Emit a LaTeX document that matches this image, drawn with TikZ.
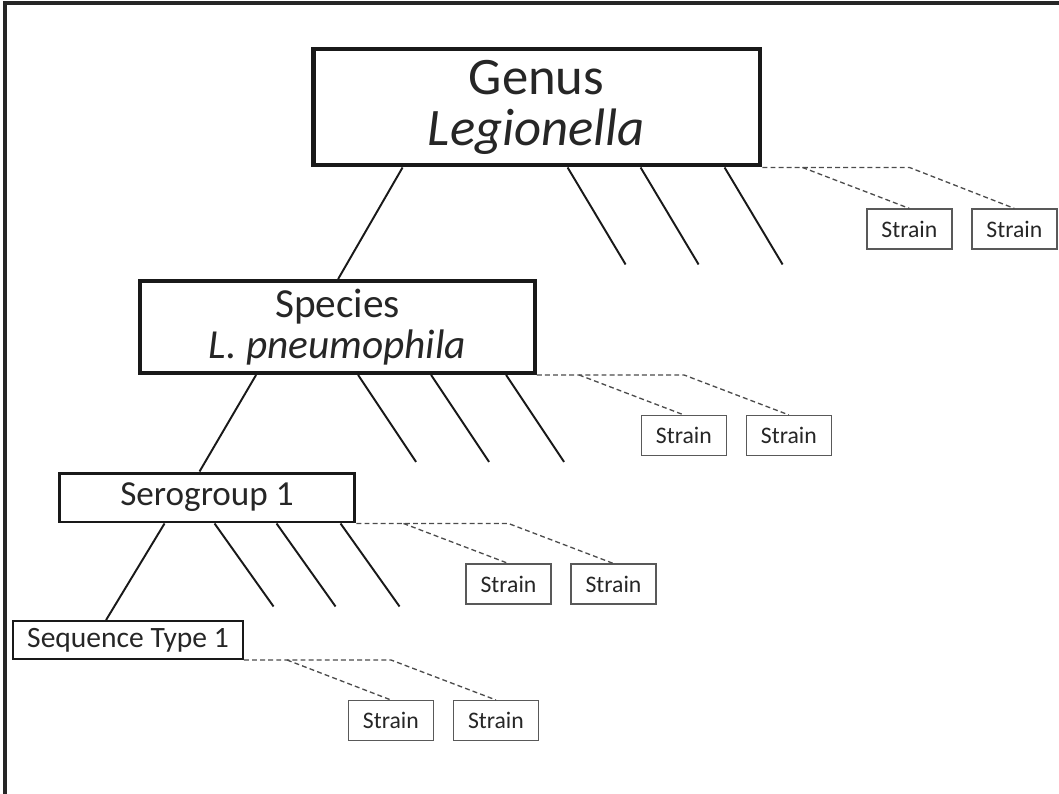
\documentclass[tikz,border=0pt]{standalone}
\usepackage{fontspec}
\setmainfont{Carlito}
\usetikzlibrary{calc}

\tikzset{
  level/.style={draw=black!90, fill=white, inner sep=0pt, align=center, text=black!85},
  strainbox/.style={draw=black!65, line width=0.8pt, inner sep=0pt,
    minimum width=1.7cm, minimum height=0.8cm, anchor=north,
    font=\fontsize{13.5}{14}\selectfont, text=black!85},
  branch/.style={line width=1.1pt, black!90},
  dashline/.style={line width=0.75pt, black!70, dash pattern=on 2.8pt off 1.8pt}
}

\begin{document}
\begin{tikzpicture}[x=0.02cm, y=-0.02cm]
    \useasboundingbox (0,0) rectangle (1059,794);
    \draw[line width=1.8pt, black!85] (1059,3) -- (5,3) -- (5,794);

    \node (genus) [level, line width=2.8pt, minimum width=8.94cm, minimum height=2.32cm,
      font=\fontsize{30}{29}\selectfont] at (536.5,107) {Genus\\\textit{Legionella}};
    \node (species) [level, line width=2.2pt, minimum width=7.9cm, minimum height=1.84cm,
      font=\fontsize{23.5}{23.5}\selectfont] at (337.5,327) {Species\\\textit{L. pneumophila}};
    \node (sero) [level, line width=1.7pt, minimum width=5.92cm, minimum height=0.98cm,
      font=\fontsize{20}{21}\selectfont] at (207,497.5) {Serogroup 1};
    \node (seqtype) [level, line width=1.1pt, minimum width=4.6cm, minimum height=0.76cm,
      font=\fontsize{16.8}{17}\selectfont] at (128,640) {Sequence Type 1};

    % strains hanging off each level
    \node (gs1) [strainbox] at ($(genus.south east)+(147,41)$) {Strain};
    \node (gs2) [strainbox] at ($(genus.south east)+(252,41)$) {Strain};
    \node (ss1) [strainbox] at ($(species.south east)+(147,40)$) {Strain};
    \node (ss2) [strainbox] at ($(species.south east)+(252,40)$) {Strain};
    \node (es1) [strainbox] at ($(sero.south east)+(152,40)$) {Strain};
    \node (es2) [strainbox] at ($(sero.south east)+(257,40)$) {Strain};
    \node (qs1) [strainbox] at ($(seqtype.south east)+(147,40)$) {Strain};
    \node (qs2) [strainbox] at ($(seqtype.south east)+(252,40)$) {Strain};

    % genus
    \draw[branch] ($(genus.south west)+(92,0)$) -- ($(species.north west)+(200,0)$);
    \draw[branch] ($(genus.south west)+(257,0)$) -- ($(genus.south west)+(315,97)$);
    \draw[branch] ($(genus.south west)+(330,0)$) -- ($(genus.south west)+(388,97)$);
    \draw[branch] ($(genus.south west)+(414,0)$) -- ($(genus.south west)+(472,97)$);
    \draw[dashline] (genus.south east) -- ($(genus.south east)+(147,0)$) -- (gs2.north);
    \draw[dashline] ($(genus.south east)+(40,0)$) -- (gs1.north);

    % species
    \draw[branch] ($(species.south west)+(118,0)$) -- ($(sero.north west)+(142,0)$);
    \draw[branch] ($(species.south west)+(220,0)$) -- ($(species.south west)+(278,87)$);
    \draw[branch] ($(species.south west)+(293,0)$) -- ($(species.south west)+(351,87)$);
    \draw[branch] ($(species.south west)+(368,0)$) -- ($(species.south west)+(426,87)$);
    \draw[dashline] (species.south east) -- ($(species.south east)+(147,0)$) -- (ss2.north);
    \draw[dashline] ($(species.south east)+(42,0)$) -- (ss1.north);

    % serogroup
    \draw[branch] ($(sero.south west)+(107,0)$) -- ($(seqtype.north west)+(94,0)$);
    \draw[branch] ($(sero.south west)+(157,0)$) -- ($(sero.south west)+(216,83)$);
    \draw[branch] ($(sero.south west)+(219,0)$) -- ($(sero.south west)+(278,83)$);
    \draw[branch] ($(sero.south west)+(283,0)$) -- ($(sero.south west)+(342,83)$);
    \draw[dashline] (sero.south east) -- ($(sero.south east)+(152,0)$) -- (es2.north);
    \draw[dashline] ($(sero.south east)+(47,0)$) -- (es1.north);

    % sequence type
    \draw[dashline] (seqtype.south east) -- ($(seqtype.south east)+(147,0)$) -- (qs2.north);
    \draw[dashline] ($(seqtype.south east)+(43,0)$) -- (qs1.north);
  \end{tikzpicture}
\end{document}
